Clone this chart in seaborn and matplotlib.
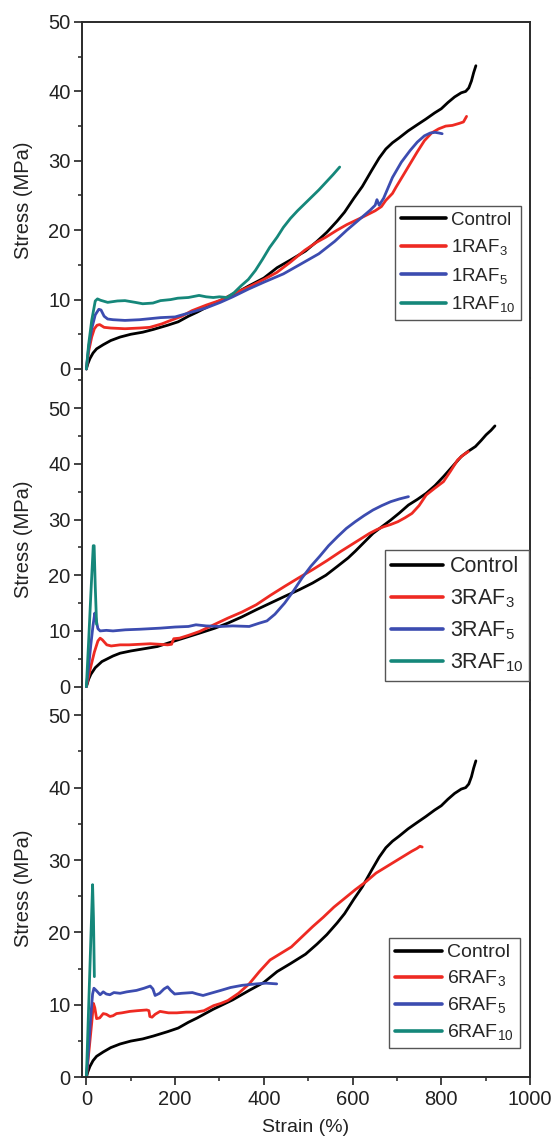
import numpy as np
import pandas as pd
import matplotlib
matplotlib.use("Agg")
import matplotlib.pyplot as plt
from matplotlib.ticker import MultipleLocator
import seaborn as sns

# ---- stress-strain readings ----
ctrl_a_x = [0, 3, 8, 15, 23, 38, 55, 76, 100, 127, 151, 183, 207, 230, 250, 286, 303, 330, 367, 400,
            430, 460, 494, 520, 542, 565, 582, 603, 622, 643, 660, 675, 690, 705, 725, 746, 765, 785,
            800, 815, 830, 845, 855, 862, 868, 873, 878]
ctrl_a_y = [0, 0.7, 1.5, 2.3, 2.9, 3.5, 4.1, 4.6, 5.0, 5.3, 5.7, 6.3, 6.8, 7.6, 8.2, 9.4, 9.9, 10.7,
            12.0, 13.1, 14.6, 15.7, 17.0, 18.4, 19.7, 21.3, 22.6, 24.6, 26.3, 28.6, 30.4, 31.7, 32.6,
            33.3, 34.3, 35.2, 36.0, 36.9, 37.5, 38.4, 39.2, 39.8, 40.0, 40.5, 41.5, 42.7, 43.7]

raf1_3_x = [0, 5, 12, 18, 24, 30, 40, 55, 87, 120, 143, 170, 190, 215, 238, 270, 302, 330, 365, 400,
            429, 460, 492, 520, 540, 565, 587, 620, 651, 665, 675, 690, 698, 715, 730, 746, 762, 778,
            794, 810, 825, 841, 850, 857]
raf1_3_y = [0, 2.5, 4.6, 5.8, 6.3, 6.4, 6.0, 5.9, 5.8, 5.9, 6.0, 6.5, 7.0, 7.6, 8.4, 9.2, 9.9, 10.8,
            11.8, 12.9, 13.9, 15.4, 17.1, 18.3, 19.0, 20.0, 20.8, 21.8, 22.8, 23.4, 24.3, 25.3, 26.2,
            28.0, 29.6, 31.3, 32.9, 34.0, 34.6, 35.0, 35.1, 35.4, 35.6, 36.4]

raf1_5_x = [0, 5, 12, 20, 28, 33, 40, 48, 60, 87, 120, 167, 200, 238, 270, 302, 330, 365, 400, 444,
            480, 524, 560, 587, 620, 640, 651, 655, 660, 670, 690, 710, 730, 746, 762, 775, 786, 795, 802]
raf1_5_y = [0, 3.0, 5.8, 7.8, 8.6, 8.5, 7.6, 7.2, 7.1, 7.0, 7.1, 7.4, 7.5, 8.2, 8.8, 9.6, 10.4, 11.5,
            12.5, 13.7, 15.0, 16.6, 18.4, 20.0, 21.8, 22.9, 23.6, 24.4, 23.6, 24.6, 27.6, 29.8, 31.5,
            32.7, 33.6, 34.0, 34.1, 34.0, 33.9]

raf1_10_x = [0, 5, 12, 20, 25, 32, 48, 70, 87, 110, 127, 150, 167, 190, 206, 230, 254, 270, 286, 300,
             317, 333, 349, 365, 381, 397, 413, 430, 444, 460, 476, 492, 508, 524, 540, 556, 571]
raf1_10_y = [0, 3.5, 7.0, 9.8, 10.1, 9.9, 9.6, 9.8, 9.85, 9.6, 9.4, 9.5, 9.85, 10.0, 10.2, 10.3, 10.6,
             10.4, 10.3, 10.4, 10.3, 11.0, 12.0, 12.9, 14.2, 15.8, 17.5, 19.0, 20.4, 21.7, 22.8, 23.8,
             24.8, 25.8, 26.9, 28.0, 29.1]

ctrl_b_x = [0, 5, 10, 20, 35, 60, 76, 100, 130, 160, 207, 255, 290, 319, 350, 383, 415, 447, 480, 510,
            540, 566, 590, 606, 626, 646, 666, 686, 706, 726, 746, 766, 786, 805, 825, 845, 860, 877,
            890, 901, 912, 921]
ctrl_b_y = [0, 1.3, 2.2, 3.4, 4.5, 5.5, 6.0, 6.4, 6.8, 7.2, 8.4, 9.6, 10.5, 11.4, 12.5, 13.8, 15.0,
            16.2, 17.4, 18.6, 20.0, 21.6, 23.1, 24.3, 25.9, 27.5, 28.7, 29.9, 31.2, 32.6, 33.6, 34.7,
            36.1, 37.7, 39.5, 41.3, 42.2, 43.1, 44.2, 45.2, 46.0, 46.8]

raf3_3_x = [0, 5, 10, 18, 26, 31, 36, 46, 56, 76, 96, 120, 144, 165, 183, 192, 197, 210, 230, 255, 287,
            319, 351, 383, 415, 447, 478, 510, 542, 574, 606, 638, 655, 670, 686, 702, 718, 734, 750,
            766, 785, 805, 821, 837, 850, 861]
raf3_3_y = [0, 1.8, 3.6, 6.2, 8.2, 8.7, 8.4, 7.5, 7.3, 7.5, 7.5, 7.6, 7.7, 7.6, 7.5, 7.6, 8.6, 8.7,
            9.2, 9.9, 11.1, 12.3, 13.4, 14.7, 16.4, 18.0, 19.5, 21.0, 22.6, 24.3, 25.9, 27.5, 28.2,
            28.7, 29.1, 29.6, 30.3, 31.1, 32.5, 34.4, 35.6, 36.8, 38.7, 40.7, 41.6, 42.2]

raf3_5_x = [0, 5, 10, 15, 19, 22, 26, 31, 45, 60, 88, 120, 167, 200, 230, 247, 270, 303, 330, 367, 390,
            407, 425, 447, 467, 486, 506, 526, 546, 566, 586, 606, 626, 646, 666, 686, 706, 726]
raf3_5_y = [0, 3.5, 7.5, 11.0, 13.2, 12.0, 10.4, 10.0, 10.1, 10.0, 10.2, 10.3, 10.5, 10.7, 10.8, 11.1,
            10.9, 10.8, 10.9, 10.8, 11.4, 11.8, 13.0, 15.0, 17.2, 19.5, 21.6, 23.4, 25.3, 26.9, 28.4,
            29.6, 30.7, 31.7, 32.5, 33.2, 33.7, 34.1]

raf3_10_x = [0, 5, 10, 15.5, 17.5, 20, 23]
raf3_10_y = [0, 8, 16.5, 25.3, 25.3, 18, 11.2]

raf6_3_x = [0, 4, 8, 12, 16, 19, 23, 30, 38, 45, 53, 60, 68, 80, 98, 115, 136, 141, 143, 148, 155, 166,
            185, 204, 225, 247, 265, 287, 303, 319, 343, 367, 390, 414, 438, 462, 486, 510, 534, 558,
            582, 606, 630, 653, 677, 701, 717, 733, 745, 752, 757]
raf6_3_y = [0, 2.5, 5.0, 7.5, 10.2, 9.6, 8.1, 8.2, 8.8, 8.7, 8.4, 8.5, 8.8, 8.9, 9.1, 9.2, 9.3, 9.2,
            8.4, 8.3, 8.7, 9.1, 8.9, 8.9, 9.0, 9.0, 9.2, 9.9, 10.2, 10.6, 11.6, 12.9, 14.6, 16.2, 17.1,
            18.0, 19.4, 20.8, 22.1, 23.5, 24.7, 25.9, 27.0, 28.2, 29.1, 30.0, 30.6, 31.2, 31.6, 31.9, 31.8]

raf6_5_x = [0, 5, 10, 14, 17, 22, 31, 38, 45, 53, 62, 76, 91, 113, 130, 144, 150, 155, 165, 175, 183,
            190, 199, 215, 239, 250, 263, 280, 303, 325, 351, 383, 405, 429]
raf6_5_y = [0, 4.0, 8.5, 11.5, 12.3, 12.0, 11.4, 11.8, 11.5, 11.4, 11.7, 11.6, 11.8, 12.0, 12.3, 12.6,
            12.2, 11.3, 11.6, 12.2, 12.5, 12.0, 11.5, 11.6, 11.7, 11.5, 11.3, 11.6, 12.0, 12.4, 12.7,
            12.9, 13.0, 12.9]

raf6_10_x = [0, 7, 14, 16, 18]
raf6_10_y = [0, 13.3, 26.6, 22, 13.9]

# ---- styling ----
sns.set_theme(style="ticks")
plt.rcParams["font.family"] = ["Liberation Sans", "DejaVu Sans"]
plt.rcParams["mathtext.fontset"] = "custom"
plt.rcParams["mathtext.rm"] = "Liberation Sans"
plt.rcParams["mathtext.it"] = "Liberation Sans"
plt.rcParams["mathtext.default"] = "regular"

colors = ["#000000", "#ee2a22", "#3c4cb0", "#15877a"]
ink = "#222222"

panels = [
    ("1", [(ctrl_a_x, ctrl_a_y), (raf1_3_x, raf1_3_y), (raf1_5_x, raf1_5_y), (raf1_10_x, raf1_10_y)]),
    ("3", [(ctrl_b_x, ctrl_b_y), (raf3_3_x, raf3_3_y), (raf3_5_x, raf3_5_y), (raf3_10_x, raf3_10_y)]),
    ("6", [(ctrl_a_x, ctrl_a_y), (raf6_3_x, raf6_3_y), (raf6_5_x, raf6_5_y), (raf6_10_x, raf6_10_y)]),
]

W, H = 556, 1142
fig = plt.figure(figsize=(W / 100, H / 100), dpi=100)

left, right = 81.5, 530
# (top px, bottom px, ymin, ymax)
rows = [(22, 378, -1.3, 50.0), (378, 700, -2.4, 55.4), (700, 1077.3, 0.0, 52.1)]
legend_cfg = [
    dict(fs=13.5, bbox=(395, 206), sp=0.45),
    dict(fs=15.5, bbox=(385, 550), sp=0.45),
    dict(fs=14, bbox=(389, 938), sp=0.36),
]

for i, ((prefix, curves), (top, bot, y0, y1), lg) in enumerate(zip(panels, rows, legend_cfg)):
    ax = fig.add_axes([left / W, 1 - bot / H, (right - left) / W, (bot - top) / H])
    labels = ["Control"] + [f"{prefix}RAF$_{{{n}}}$" for n in (3, 5, 10)]
    frames = []
    for lab, (xs, ys) in zip(labels, curves):
        frames.append(pd.DataFrame({"strain": xs, "stress": ys, "sample": lab}))
    df = pd.concat(frames, ignore_index=True)
    sns.lineplot(data=df, x="strain", y="stress", hue="sample", palette=colors,
                 hue_order=labels, sort=False, estimator=None, lw=2.0, ax=ax, legend=True)

    ax.set_xlim(-11, 1000)
    ax.set_ylim(y0, y1)
    ax.yaxis.set_major_locator(MultipleLocator(10))
    ax.yaxis.set_minor_locator(MultipleLocator(5))
    ax.set_ylabel("Stress (MPa)", fontsize=14.5, color=ink)
    ax.yaxis.set_label_coords(-(left - 33) / (right - left), 0.5)
    ax.tick_params(axis="y", which="major", direction="out", length=6, width=1.2,
                   labelsize=14.5, colors=ink, pad=2)
    ax.tick_params(axis="y", which="minor", direction="out", length=3, width=1.1, colors=ink)

    for s in ("left", "right", "top", "bottom"):
        ax.spines[s].set_linewidth(1.4)
        ax.spines[s].set_color("#2a2a2a")
    ax.spines["top"].set_visible(i == 0)
    if i < 2:
        ax.spines["bottom"].set_visible(False)
        ax.tick_params(axis="x", which="both", bottom=False, labelbottom=False)
        ax.set_xlabel("")
    else:
        ax.xaxis.set_major_locator(MultipleLocator(200))
        ax.xaxis.set_minor_locator(MultipleLocator(100))
        ax.tick_params(axis="x", which="major", direction="out", length=6, width=1.2,
                       labelsize=14.5, colors=ink)
        ax.tick_params(axis="x", which="minor", direction="out", length=3, width=1.1,
                       colors=ink)
        ax.set_xlabel("Strain (%)", fontsize=14, color=ink, labelpad=7)
    ax.set_facecolor("white")

    handles, hl = ax.get_legend_handles_labels()
    bx, by = lg["bbox"]
    leg = ax.legend(handles, hl, loc="upper left",
                    bbox_to_anchor=(bx / W, 1 - by / H), bbox_transform=fig.transFigure,
                    fontsize=lg["fs"], frameon=True, fancybox=False, framealpha=1,
                    edgecolor="#555555", borderpad=0.3, labelspacing=lg["sp"],
                    handlelength=2.4, handletextpad=0.3, borderaxespad=0)
    leg.get_frame().set_linewidth(1.0)
    for ln in leg.get_lines():
        ln.set_linewidth(2.6)

fig.savefig("out.png", dpi=100, facecolor="white")
